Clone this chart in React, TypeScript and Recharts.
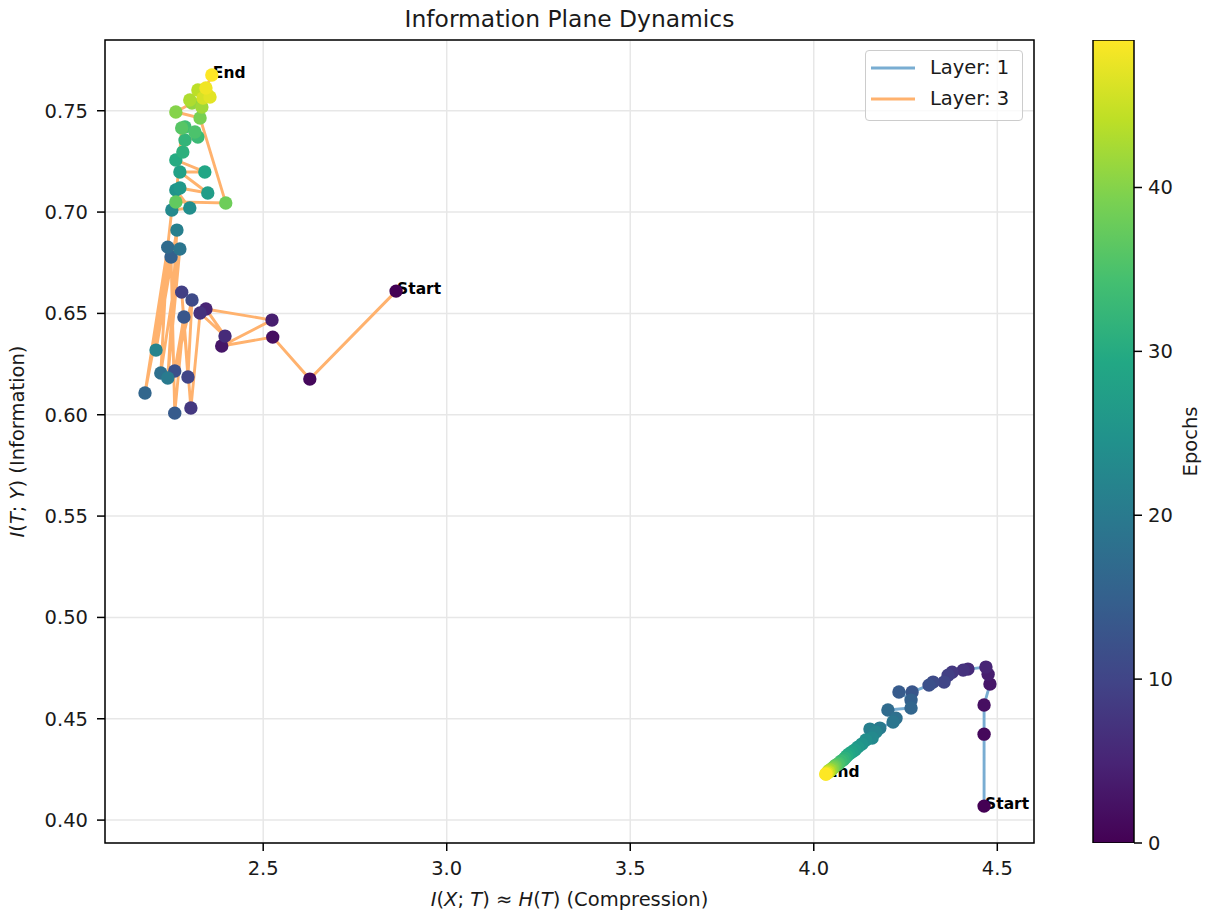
import React from "react";
import {
  ScatterChart,
  Scatter,
  XAxis,
  YAxis,
  CartesianGrid,
  ReferenceArea,
  Legend,
  Label,
  BarChart,
  Bar,
} from "recharts";

const FONT = '"DejaVu Sans", Verdana, sans-serif';

// one point per epoch (0..49)
const layer1X = [
  4.464, 4.464, 4.464, 4.48, 4.475, 4.469, 4.42, 4.407, 4.377, 4.366,
  4.355, 4.325, 4.314, 4.268, 4.232, 4.265, 4.265, 4.202, 4.224, 4.216,
  4.18, 4.153, 4.169, 4.159, 4.142, 4.131, 4.12, 4.112, 4.104, 4.096,
  4.09, 4.085, 4.08, 4.074, 4.069, 4.066, 4.06, 4.058, 4.055, 4.052,
  4.05, 4.047, 4.044, 4.041, 4.041, 4.039, 4.036, 4.036, 4.033, 4.033,
];
const layer1Y = [
  0.4069, 0.4424, 0.4568, 0.4671, 0.472, 0.4755, 0.4745, 0.474, 0.473, 0.4715,
  0.4681, 0.4681, 0.4666, 0.4632, 0.4632, 0.4592, 0.4553, 0.4543, 0.4503, 0.4484,
  0.4454, 0.4449, 0.4434, 0.4405, 0.4395, 0.4375, 0.436, 0.4346, 0.4336, 0.4326,
  0.4316, 0.4306, 0.4296, 0.4291, 0.4281, 0.4276, 0.4271, 0.4266, 0.4262, 0.4257,
  0.4252, 0.4247, 0.4247, 0.4242, 0.4237, 0.4237, 0.4232, 0.4232, 0.4227, 0.4227,
];
const layer3X = [
  2.862, 2.627, 2.526, 2.387, 2.524, 2.344, 2.396, 2.328, 2.303, 2.278,
  2.295, 2.306, 2.259, 2.284, 2.259, 2.249, 2.178, 2.24, 2.221, 2.273,
  2.24, 2.265, 2.208, 2.251, 2.3, 2.262, 2.273, 2.349, 2.273, 2.341,
  2.262, 2.281, 2.287, 2.322, 2.287, 2.314, 2.278, 2.262, 2.398, 2.328,
  2.262, 2.306, 2.333, 2.3, 2.322, 2.349, 2.336, 2.355, 2.344, 2.36,
];
const layer3Y = [
  0.661, 0.6176, 0.6383, 0.6339, 0.6467, 0.6522, 0.6388, 0.6502, 0.6033, 0.6605,
  0.6186, 0.6566, 0.6216, 0.6482, 0.6008, 0.6778, 0.6107, 0.6827, 0.6206, 0.6818,
  0.6181, 0.6911, 0.6319, 0.701, 0.702, 0.7109, 0.7119, 0.7094, 0.7198, 0.7198,
  0.7257, 0.7296, 0.7355, 0.737, 0.742, 0.7395, 0.7415, 0.705, 0.7045, 0.7464,
  0.7494, 0.7538, 0.7518, 0.7553, 0.7602, 0.7577, 0.7563, 0.7568, 0.7612, 0.7676,
];

const layerNames = ["Layer: 1", "Layer: 3"];
const layerColors = ["#79add2", "#ffb26e"];

const xTicks = [2.5, 3.0, 3.5, 4.0, 4.5];
const yTicks = [0.4, 0.45, 0.5, 0.55, 0.6, 0.65, 0.7, 0.75];
const epochTicks = [0, 10, 20, 30, 40];
const lastEpoch = 49;
const xDomain: [number, number] = [2.069, 4.6];
const yDomain: [number, number] = [0.3887, 0.7849];

const VIRIDIS = [
  "#440154", "#482475", "#414487", "#355f8d", "#2a788e", "#21918c",
  "#22a884", "#44bf70", "#7ad151", "#bddf26", "#fde725",
];

function rgb(h: string) {
  return [1, 3, 5].map((i) => parseInt(h.slice(i, i + 2), 16));
}

function viridis(t: number) {
  const s = Math.max(0, Math.min(1, t)) * 10;
  const i = Math.min(9, Math.floor(s));
  const f = s - i;
  const a = rgb(VIRIDIS[i]);
  const b = rgb(VIRIDIS[i + 1]);
  const c = a.map((v, k) => Math.round(v + (b[k] - v) * f));
  return `rgb(${c[0]},${c[1]},${c[2]})`;
}

const toPoints = (xs: number[], ys: number[]) =>
  xs.map((x, i) => ({ x, y: ys[i], epoch: i }));
const layer1 = toPoints(layer1X, layer1Y);
const layer3 = toPoints(layer3X, layer3Y);

const marks = [
  { x: layer1X[0], y: layer1Y[0], text: "Start" },
  { x: layer1X[lastEpoch], y: layer1Y[lastEpoch], text: "End" },
  { x: layer3X[0], y: layer3Y[0], text: "Start" },
  { x: layer3X[lastEpoch], y: layer3Y[lastEpoch], text: "End" },
];

const colorbarData = [{ name: "epochs", value: lastEpoch }];

const Dot = (p: any) => (
  <circle cx={p.cx} cy={p.cy} r={6.7} fill={viridis(p.payload.epoch / lastEpoch)} />
);

const Mark = (p: any) => (
  <text x={p.cx + 1} y={p.cy + 3} fontSize={15.5} fontWeight="bold" fill="#000">
    {p.payload.text}
  </text>
);

const XTitle = (props: any) => {
  const vb = props.viewBox || { x: 105, y: 843, width: 929 };
  const cx = vb.x + vb.width / 2;
  return (
    <text x={cx} y={vb.y + 63} textAnchor="middle" fontSize={19.5} fill="#1a1a1a">
      <tspan fontStyle="italic">I</tspan>
      <tspan>(</tspan>
      <tspan fontStyle="italic">X</tspan>
      <tspan>{"; "}</tspan>
      <tspan fontStyle="italic">T</tspan>
      <tspan>{") ≈ "}</tspan>
      <tspan fontStyle="italic">H</tspan>
      <tspan>(</tspan>
      <tspan fontStyle="italic">T</tspan>
      <tspan>{") (Compression)"}</tspan>
    </text>
  );
};

const YTitle = (props: any) => {
  const vb = props.viewBox || { x: 0, y: 40, height: 803 };
  const cy = vb.y + vb.height / 2;
  const x = 24;
  return (
    <text x={x} y={cy} transform={`rotate(-90 ${x} ${cy})`} textAnchor="middle" fontSize={19.5} fill="#1a1a1a">
      <tspan fontStyle="italic">I</tspan>
      <tspan>(</tspan>
      <tspan fontStyle="italic">T</tspan>
      <tspan>{"; "}</tspan>
      <tspan fontStyle="italic">Y</tspan>
      <tspan>{") (Information)"}</tspan>
    </text>
  );
};

const EpochTitle = (props: any) => {
  const vb = props.viewBox || { x: 74, y: 40, height: 803 };
  const cy = vb.y + vb.height / 2;
  const x = vb.x + 63;
  return (
    <text x={x} y={cy} transform={`rotate(-90 ${x} ${cy})`} textAnchor="middle" fontSize={19.5} fill="#1a1a1a">
      Epochs
    </text>
  );
};

const LegendBox = () => (
  <div
    style={{
      width: 156,
      height: 68,
      border: "1px solid #cccccc",
      borderRadius: 4,
      background: "rgba(255,255,255,0.8)",
      paddingTop: 1,
      boxSizing: "content-box",
    }}
  >
    {layerNames.map((name, i) => (
      <div key={name} style={{ display: "flex", alignItems: "center", height: 31 }}>
        <svg width={44} height={4} style={{ marginLeft: 5 }}>
          <line x1={0} y1={2} x2={44} y2={2} stroke={layerColors[i]} strokeWidth={2.9} />
        </svg>
        <span style={{ marginLeft: 15, fontSize: 19.5, color: "#1a1a1a", lineHeight: "22px" }}>{name}</span>
      </div>
    ))}
  </div>
);

const tickStyle = { fill: "#1a1a1a", fontSize: 19.5 };
const tickLine = { stroke: "#000", strokeWidth: 1.5 };

export default function App() {
  return (
    <div
      style={{
        position: "absolute",
        left: 0,
        top: 0,
        width: 1222,
        height: 916,
        background: "#fff",
        fontFamily: FONT,
      }}
    >
      <div
        style={{
          position: "absolute",
          left: 105,
          top: 7,
          width: 929,
          textAlign: "center",
          fontSize: 23.4,
          lineHeight: "24px",
          color: "#1a1a1a",
        }}
      >
        Information Plane Dynamics
      </div>

      <div style={{ position: "absolute", left: 0, top: 0 }}>
        <ScatterChart width={1050} height={916} margin={{ top: 40, right: 16, bottom: 0, left: 0 }}>
          <CartesianGrid stroke="#e7e7e7" strokeWidth={1.5} />
          <XAxis
            type="number"
            dataKey="x"
            domain={xDomain}
            ticks={xTicks}
            allowDataOverflow
            interval={0}
            height={73}
            tickSize={8}
            tickMargin={10}
            axisLine={false}
            tickLine={tickLine}
            tick={tickStyle}
            tickFormatter={(v: number) => v.toFixed(1)}
          >
            <Label content={XTitle} />
          </XAxis>
          <YAxis
            type="number"
            dataKey="y"
            domain={yDomain}
            ticks={yTicks}
            allowDataOverflow
            interval={0}
            width={105}
            tickSize={8}
            tickMargin={9}
            axisLine={false}
            tickLine={tickLine}
            tick={tickStyle}
            tickFormatter={(v: number) => v.toFixed(2)}
          >
            <Label content={YTitle} />
          </YAxis>

          {/* Start / End labels, drawn first so points sit on top */}
          <Scatter name="marks" data={marks} shape={Mark} legendType="none" isAnimationActive={false} />
          <Scatter
            name={layerNames[0]}
            data={layer1}
            fill={layerColors[0]}
            line={{ stroke: layerColors[0], strokeWidth: 2.9 }}
            shape={Dot}
            isAnimationActive={false}
          />
          <Scatter
            name={layerNames[1]}
            data={layer3}
            fill={layerColors[1]}
            line={{ stroke: layerColors[1], strokeWidth: 2.9 }}
            shape={Dot}
            isAnimationActive={false}
          />

          <ReferenceArea
            x1={xDomain[0]}
            x2={xDomain[1]}
            y1={yDomain[0]}
            y2={yDomain[1]}
            fill="none"
            fillOpacity={0}
            stroke="#000"
            strokeWidth={1.5}
            ifOverflow="visible"
          />
          <Legend
            layout="vertical"
            align="center"
            verticalAlign="middle"
            content={LegendBox}
            wrapperStyle={{ left: 865, top: 50, width: 158, height: 70 }}
          />
        </ScatterChart>
      </div>

      {/* colorbar */}
      <div style={{ position: "absolute", left: 1060, top: 0 }}>
        <BarChart
          width={162}
          height={916}
          data={colorbarData}
          margin={{ top: 40, right: 0, bottom: 73, left: 33 }}
          barCategoryGap={0}
        >
          <defs>
            <linearGradient id="viridisBar" x1="0" y1="1" x2="0" y2="0">
              {VIRIDIS.map((c, i) => (
                <stop key={c} offset={i / (VIRIDIS.length - 1)} stopColor={c} />
              ))}
            </linearGradient>
          </defs>
          <XAxis dataKey="name" hide />
          <YAxis
            orientation="right"
            type="number"
            domain={[0, lastEpoch]}
            ticks={epochTicks}
            allowDataOverflow
            interval={0}
            width={88}
            tickSize={8}
            tickMargin={6}
            axisLine={false}
            tickLine={tickLine}
            tick={tickStyle}
          >
            <Label content={EpochTitle} />
          </YAxis>
          <Bar
            dataKey="value"
            fill="url(#viridisBar)"
            stroke="#000"
            strokeWidth={1.5}
            isAnimationActive={false}
          />
        </BarChart>
      </div>
    </div>
  );
}
